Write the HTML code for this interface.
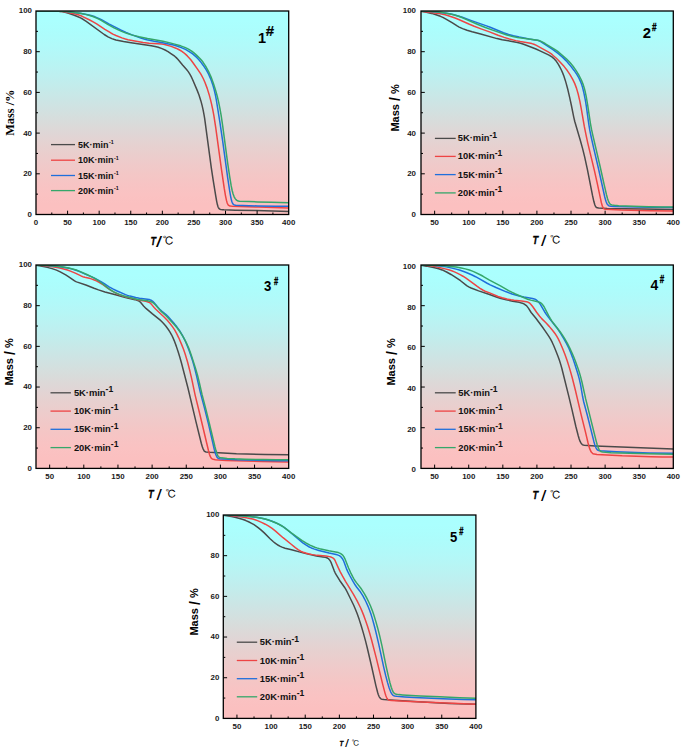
<!DOCTYPE html>
<html lang="en"><head><meta charset="utf-8"><title>TG curves</title>
<style>html,body{margin:0;padding:0;background:#fff;}svg{display:block;}</style>
</head><body>
<svg width="685" height="750" viewBox="0 0 685 750">
<defs>
<linearGradient id="bg" x1="0" y1="0" x2="0" y2="1"><stop offset="0" stop-color="#aafffe"/><stop offset="0.05" stop-color="#abfffe"/><stop offset="0.1" stop-color="#acfdfc"/><stop offset="0.15" stop-color="#affbfa"/><stop offset="0.2" stop-color="#b3f8f8"/><stop offset="0.25" stop-color="#b7f5f4"/><stop offset="0.3" stop-color="#bcf1f1"/><stop offset="0.35" stop-color="#c1eded"/><stop offset="0.4" stop-color="#c7e9e8"/><stop offset="0.45" stop-color="#cde4e4"/><stop offset="0.5" stop-color="#d3e0df"/><stop offset="0.55" stop-color="#d9dbda"/><stop offset="0.6" stop-color="#dfd6d6"/><stop offset="0.65" stop-color="#e5d2d1"/><stop offset="0.7" stop-color="#eacecd"/><stop offset="0.75" stop-color="#efcaca"/><stop offset="0.8" stop-color="#f3c7c6"/><stop offset="0.85" stop-color="#f7c4c4"/><stop offset="0.9" stop-color="#fac2c2"/><stop offset="0.95" stop-color="#fbc0c0"/><stop offset="1" stop-color="#fcc0c0"/></linearGradient>
<clipPath id="clip1"><rect x="36" y="11" width="252.7" height="203.5"/></clipPath>
<clipPath id="clip2"><rect x="421" y="11" width="252.3" height="203.5"/></clipPath>
<clipPath id="clip3"><rect x="36" y="265" width="252.7" height="203.4"/></clipPath>
<clipPath id="clip4"><rect x="421" y="265" width="252.3" height="203.4"/></clipPath>
<clipPath id="clip5"><rect x="223.3" y="515" width="252.6" height="203.4"/></clipPath>
</defs>
<rect width="685" height="750" fill="#fff"/>
<g id="chart1">
<rect x="36" y="11" width="252.7" height="203.5" fill="url(#bg)"/>
<g clip-path="url(#clip1)" fill="none" stroke-width="1.5" stroke-linejoin="round" stroke-linecap="round">
<path d="M36 11 L54.32 11 L57.48 11.11 L60.32 11.38 L63.17 11.84 L66.01 12.45 L68.54 13.2 L73.59 15.02 L77.38 16.51 L80.54 17.94 L83.07 19.28 L86.22 21.37 L104.23 34.49 L108.02 36.83 L111.81 38.64 L113.71 39.31 L115.92 39.92 L123.5 41.54 L131.08 42.84 L151.29 45.85 L155.08 46.56 L158.24 47.32 L162.03 48.64 L166.14 50.55 L168.04 51.67 L170.88 53.54 L174.67 56.23 L176.25 57.61 L177.83 59.27 L182.57 64.93 L186.36 69.2 L188.25 71.63 L189.83 74.08 L191.09 76.43 L192.67 79.77 L197.1 90.12 L198.99 95.02 L200.89 100.93 L202.15 105.68 L203.1 109.84 L204.05 114.79 L204.68 118.66 L211.31 167.81 L213.21 180.41 L215.73 195.87 L216.68 201.3 L217.31 204.3 L217.94 206.48 L218.26 207.27 L218.89 208.37 L219.52 209.01 L220.47 209.44 L221.73 209.63 L223.95 209.76 L235.32 210.15 L256.16 210.59 L288.7 211.44" stroke="#4a4a4a"/>
<path d="M36 11 L55.58 11 L58.74 11.14 L62.85 11.61 L67.9 12.48 L73.27 13.58 L77.38 14.58 L79.59 15.28 L82.12 16.3 L89.7 20 L93.17 21.91 L96.65 23.95 L104.86 29.41 L110.86 32.98 L113.39 34.32 L115.92 35.52 L121.92 37.89 L125.39 39.08 L127.92 39.74 L143.08 42.45 L149.08 43.14 L161.72 44.11 L163.61 44.37 L165.51 44.77 L171.19 46.37 L175.93 48.18 L178.14 49.22 L180.04 50.25 L181.93 51.42 L183.83 52.79 L185.41 54.12 L187.3 55.91 L189.2 57.9 L190.78 59.76 L192.99 62.7 L198.04 69.89 L200.89 74.21 L203.1 78.24 L204.99 82.46 L207.2 88.38 L209.1 94.42 L210.36 99.09 L211.63 104.35 L212.89 110.27 L213.84 115.34 L215.73 127.53 L221.42 169.04 L224.26 188.43 L225.52 195.8 L226.47 200.41 L227.1 202.66 L227.42 203.51 L228.05 204.7 L228.68 205.4 L229.63 205.91 L230.58 206.1 L232.47 206.25 L239.74 206.53 L258.69 207 L288.7 207.98" stroke="#ee4444"/>
<path d="M36 11 L58.43 11 L62.53 11.19 L66.96 11.62 L81.49 13.55 L86.54 14.45 L90.96 15.49 L95.07 16.83 L99.81 18.83 L102.33 20.14 L109.28 24.08 L120.65 29.88 L126.02 32.44 L131.39 34.62 L140.87 37.98 L144.03 38.96 L146.87 39.72 L154.14 41.32 L162.67 42.81 L168.67 43.97 L173.41 45.02 L176.88 45.98 L181.3 47.6 L185.41 49.44 L189.2 51.55 L192.67 53.94 L196.15 56.9 L197.73 58.5 L199.31 60.27 L201.2 62.62 L203.1 65.18 L206.26 69.94 L208.47 73.94 L210.68 78.87 L212.57 84.15 L214.15 89.57 L215.42 94.99 L216.36 100.02 L219.84 121.88 L222.68 141.22 L227.74 178.21 L229.63 190.72 L230.58 196.08 L231.21 199.1 L231.84 201.45 L232.16 202.34 L232.79 203.65 L233.42 204.46 L234.05 204.9 L234.69 205.11 L235.63 205.21 L257.74 205.95 L275.43 206.27 L288.7 206.36" stroke="#1f6fdc"/>
<path d="M36 11 L58.43 11 L61.9 11.14 L66.64 11.58 L80.22 13.35 L83.38 13.89 L86.54 14.61 L89.7 15.5 L92.23 16.32 L94.75 17.31 L97.28 18.44 L100.75 20.19 L107.7 24.43 L114.02 27.83 L120.97 31.08 L126.66 33.34 L132.34 35.11 L138.98 36.77 L147.5 38.51 L162.98 41.25 L168.98 42.62 L174.67 44.11 L180.67 45.84 L184.78 47.35 L186.99 48.35 L188.88 49.34 L190.46 50.3 L192.04 51.42 L193.94 52.93 L196.46 55.12 L199.94 58.53 L201.52 60.32 L203.1 62.33 L205.62 66.11 L208.47 71.3 L210.99 76.86 L213.52 83.66 L215.73 90.71 L217.31 96.54 L218.58 101.92 L219.84 108.05 L221.1 115.17 L222.68 125.96 L227.74 163.56 L229.63 176.3 L231.21 185.89 L232.16 190.51 L233.11 194 L234.05 196.57 L235 198.4 L235.95 199.6 L236.9 200.4 L238.16 201.05 L239.42 201.28 L248.9 201.5 L257.74 201.88 L271.33 202.32 L288.7 202.69" stroke="#35a76a"/>
</g>
<path d="M51.79 214.5 v-2 M67.59 214.5 v-3.8 M83.38 214.5 v-2 M99.17 214.5 v-3.8 M114.97 214.5 v-2 M130.76 214.5 v-3.8 M146.56 214.5 v-2 M162.35 214.5 v-3.8 M178.14 214.5 v-2 M193.94 214.5 v-3.8 M209.73 214.5 v-2 M225.52 214.5 v-3.8 M241.32 214.5 v-2 M257.11 214.5 v-3.8 M272.91 214.5 v-2 M36 194.15 h2 M36 173.8 h3.8 M36 153.45 h2 M36 133.1 h3.8 M36 112.75 h2 M36 92.4 h3.8 M36 72.05 h2 M36 51.7 h3.8 M36 31.35 h2" stroke="#000" stroke-width="1" fill="none"/>
<rect x="36" y="11" width="252.7" height="203.5" fill="none" stroke="#000" stroke-width="1.3"/>
<g font-family='"Liberation Sans", sans-serif' font-weight="bold" font-size="7.9" fill="#1a1a1a">
<text x="36" y="225.2" text-anchor="middle">0</text>
<text x="67.59" y="225.2" text-anchor="middle">50</text>
<text x="99.17" y="225.2" text-anchor="middle">100</text>
<text x="130.76" y="225.2" text-anchor="middle">150</text>
<text x="162.35" y="225.2" text-anchor="middle">200</text>
<text x="193.94" y="225.2" text-anchor="middle">250</text>
<text x="225.52" y="225.2" text-anchor="middle">300</text>
<text x="257.11" y="225.2" text-anchor="middle">350</text>
<text x="288.7" y="225.2" text-anchor="middle">400</text>
<text x="32" y="216.95" text-anchor="end">0</text>
<text x="32" y="176.25" text-anchor="end">20</text>
<text x="32" y="135.55" text-anchor="end">40</text>
<text x="32" y="94.85" text-anchor="end">60</text>
<text x="32" y="54.15" text-anchor="end">80</text>
<text x="32" y="13.45" text-anchor="end">100</text>
</g>
<text transform="translate(14.2 112.7) rotate(-90)" text-anchor="middle" font-family='"Liberation Serif", serif' font-weight="bold" font-size="12.3" fill="#000">Mass /%</text>
<text transform="translate(150.6 245.2) scale(0.8 1)" font-family='"Liberation Sans", sans-serif' font-weight="bold" font-style="italic" font-size="11.3" fill="#000" stroke="#000" stroke-width="0.3">T</text>
<text transform="translate(156.6 247.1) scale(1 1)" font-family='"Liberation Sans", sans-serif' font-weight="bold" font-style="italic" font-size="15.3" fill="#000">/</text>
<text x="162.8" y="245" font-family='"Liberation Serif", "IPAGothic", "Noto Serif CJK SC", serif' font-size="11.3" fill="#000">℃</text>
<text transform="translate(258 43) scale(1 1)" font-family='"Liberation Sans", sans-serif' font-weight="bold" font-size="14.5" fill="#000">1</text>
<text transform="translate(265.8 36) scale(1 1)" font-family='"Liberation Sans", sans-serif' font-weight="bold" font-size="15" fill="#000" stroke="#000" stroke-width="0.2">#</text>
<line x1="51" y1="144.6" x2="75" y2="144.6" stroke="#4a4a4a" stroke-width="1.3"/>
<text x="78" y="147.8" font-family='"Liberation Sans", sans-serif' font-weight="bold" font-size="9" fill="#111">5K·min<tspan dx="0.4" dy="-3.4" font-size="5.3">-1</tspan></text>
<line x1="51" y1="160.2" x2="75" y2="160.2" stroke="#ee4444" stroke-width="1.3"/>
<text x="78" y="163.4" font-family='"Liberation Sans", sans-serif' font-weight="bold" font-size="9" fill="#111">10K·min<tspan dx="0.4" dy="-3.4" font-size="5.3">-1</tspan></text>
<line x1="51" y1="175.5" x2="75" y2="175.5" stroke="#1f6fdc" stroke-width="1.3"/>
<text x="78" y="178.7" font-family='"Liberation Sans", sans-serif' font-weight="bold" font-size="9" fill="#111">15K·min<tspan dx="0.4" dy="-3.4" font-size="5.3">-1</tspan></text>
<line x1="51" y1="190.6" x2="75" y2="190.6" stroke="#35a76a" stroke-width="1.3"/>
<text x="78" y="193.8" font-family='"Liberation Sans", sans-serif' font-weight="bold" font-size="9" fill="#111">20K·min<tspan dx="0.4" dy="-3.4" font-size="5.3">-1</tspan></text>
</g>
<g id="chart2">
<rect x="421" y="11" width="252.3" height="203.5" fill="url(#bg)"/>
<g clip-path="url(#clip2)" fill="none" stroke-width="1.5" stroke-linejoin="round" stroke-linecap="round">
<path d="M421 11.26 L425.43 11.98 L431.57 13.4 L436 14.7 L440.43 16.31 L442.82 17.39 L445.55 18.87 L452.03 22.73 L457.14 25.95 L459.19 27.11 L462.6 28.65 L467.03 30.21 L472.14 31.76 L480.67 34 L497.03 38.6 L502.15 39.7 L517.49 42.43 L520.56 43.2 L523.62 44.21 L531.47 47.2 L536.58 49.29 L539.99 50.82 L548.51 54.91 L550.22 55.84 L551.92 56.96 L553.63 58.32 L554.99 59.66 L556.36 61.33 L558.06 63.9 L559.76 66.84 L561.47 70.24 L562.83 73.39 L563.86 76.09 L565.22 80.16 L566.24 83.61 L567.95 90.06 L569.65 97.34 L571.36 105.24 L573.74 117.07 L574.77 121.49 L580.22 139.94 L582.61 148.66 L584.65 156.82 L587.38 169.33 L592.5 195.38 L593.86 201.57 L594.88 205.01 L595.56 206.45 L596.25 207.29 L597.27 207.86 L598.63 208.11 L607.16 208.46 L641.93 209.06 L673.3 209.41" stroke="#4a4a4a"/>
<path d="M421 11.24 L434.64 12.9 L440.43 13.77 L445.21 14.84 L451.34 16.68 L455.09 18.04 L459.87 19.99 L469.41 24.28 L474.19 26.24 L481.01 28.83 L489.53 31.91 L498.05 35.25 L504.19 37.4 L509.31 38.97 L515.78 40.64 L520.22 41.55 L529.08 42.99 L531.81 43.6 L533.85 44.21 L535.9 45.14 L548.17 51.94 L550.22 53.2 L552.26 54.7 L556.36 58.26 L559.76 61.67 L564.2 66.62 L567.27 70.55 L569.99 74.61 L572.72 79.37 L574.77 83.64 L576.47 88.11 L578.18 93.98 L579.88 101.39 L581.24 108.56 L584.31 126.38 L586.02 134.95 L587.72 142.82 L594.54 171.15 L597.27 183.42 L601.36 202.65 L602.38 206.18 L602.72 207 L603.41 208.15 L603.75 208.52 L604.43 208.99 L605.79 209.33 L621.14 210.08 L649.77 210.8 L673.3 211.04" stroke="#ee4444"/>
<path d="M421 11.01 L430.55 11.38 L437.37 11.99 L446.23 13.21 L450.66 14.03 L454.07 14.8 L458.16 15.92 L462.25 17.2 L470.78 20.38 L485.78 25.64 L490.21 27.3 L503.51 32.69 L508.62 34.5 L513.4 35.8 L519.19 37.1 L529.08 38.91 L535.22 39.89 L538.29 40.58 L539.65 41.08 L540.67 41.6 L546.47 45.29 L552.61 49.4 L558.4 53.66 L562.49 57.11 L566.24 60.85 L569.99 65.14 L574.08 70.43 L576.81 74.32 L578.86 77.87 L580.56 81.57 L581.93 85.35 L582.61 87.65 L583.63 91.7 L585.34 100.06 L586.36 106.42 L588.75 123.99 L589.77 130.03 L591.13 136.75 L593.86 148.88 L598.29 167.72 L604.77 197.03 L605.45 199.59 L606.13 201.71 L606.82 203.36 L607.5 204.55 L608.52 205.58 L609.54 206.05 L610.91 206.26 L614.32 206.48 L649.77 207.33 L673.3 207.58" stroke="#1f6fdc"/>
<path d="M421 11.01 L425.43 11.12 L431.23 11.43 L438.39 12.11 L443.5 12.77 L447.59 13.43 L451.34 14.18 L454.41 14.99 L458.5 16.31 L462.6 17.82 L477.94 24.51 L485.44 27.53 L492.6 30.15 L506.92 35.04 L511.69 36.27 L517.49 37.41 L523.28 38.32 L535.9 39.97 L537.94 40.33 L539.65 40.79 L541.69 41.67 L545.1 43.52 L554.31 49.06 L557.72 51.45 L563.17 55.99 L566.58 59.06 L569.99 62.57 L573.06 66.24 L576.13 70.59 L579.2 75.74 L581.59 80.5 L583.29 84.87 L584.31 88.23 L585 90.87 L586.36 97.26 L587.72 105.28 L590.45 123.62 L591.47 129.14 L592.5 133.96 L600 165.96 L604.09 184.4 L606.47 194.68 L607.5 198.46 L608.18 200.55 L608.86 202.23 L609.54 203.47 L609.88 203.91 L610.57 204.51 L611.25 204.84 L611.93 205.04 L614.32 205.36 L618.75 205.69 L633.07 206.22 L648.75 206.66 L661.37 206.89 L673.3 206.97" stroke="#35a76a"/>
</g>
<path d="M434.64 214.5 v-3.8 M451.69 214.5 v-2 M468.73 214.5 v-3.8 M485.78 214.5 v-2 M502.83 214.5 v-3.8 M519.87 214.5 v-2 M536.92 214.5 v-3.8 M553.97 214.5 v-2 M571.02 214.5 v-3.8 M588.06 214.5 v-2 M605.11 214.5 v-3.8 M622.16 214.5 v-2 M639.21 214.5 v-3.8 M656.25 214.5 v-2 M421 194.15 h2 M421 173.8 h3.8 M421 153.45 h2 M421 133.1 h3.8 M421 112.75 h2 M421 92.4 h3.8 M421 72.05 h2 M421 51.7 h3.8 M421 31.35 h2" stroke="#000" stroke-width="1" fill="none"/>
<rect x="421" y="11" width="252.3" height="203.5" fill="none" stroke="#000" stroke-width="1.3"/>
<g font-family='"Liberation Sans", sans-serif' font-weight="bold" font-size="7.9" fill="#1a1a1a">
<text x="434.64" y="225.2" text-anchor="middle">50</text>
<text x="468.73" y="225.2" text-anchor="middle">100</text>
<text x="502.83" y="225.2" text-anchor="middle">150</text>
<text x="536.92" y="225.2" text-anchor="middle">200</text>
<text x="571.02" y="225.2" text-anchor="middle">250</text>
<text x="605.11" y="225.2" text-anchor="middle">300</text>
<text x="639.21" y="225.2" text-anchor="middle">350</text>
<text x="673.3" y="225.2" text-anchor="middle">400</text>
<text x="416" y="216.95" text-anchor="end">0</text>
<text x="416" y="176.25" text-anchor="end">20</text>
<text x="416" y="135.55" text-anchor="end">40</text>
<text x="416" y="94.85" text-anchor="end">60</text>
<text x="416" y="54.15" text-anchor="end">80</text>
<text x="416" y="13.45" text-anchor="end">100</text>
</g>
<text transform="translate(398.9 107.9) rotate(-90)" text-anchor="middle" font-family='"Liberation Sans", sans-serif' font-weight="bold" font-size="11" fill="#000">Mass <tspan font-size="14" dy="1.4">/</tspan><tspan dy="-1.4"> %</tspan></text>
<text transform="translate(532.4 243.8) scale(0.85 1)" font-family='"Liberation Sans", sans-serif' font-weight="bold" font-style="italic" font-size="11" fill="#000" stroke="#000" stroke-width="0.3">T</text>
<text transform="translate(541.5 245.6) scale(0.9 1)" font-family='"Liberation Sans", sans-serif' font-weight="bold" font-style="italic" font-size="14.8" fill="#000">/</text>
<text x="550" y="243.6" font-family='"Liberation Serif", "IPAGothic", "Noto Serif CJK SC", serif' font-size="11" fill="#000">℃</text>
<text transform="translate(642.8 38.1) scale(0.99 1)" font-family='"Liberation Sans", sans-serif' font-weight="bold" font-size="15" fill="#000">2</text>
<text transform="translate(652 30.9) scale(0.86 1.15)" font-family='"Liberation Sans", sans-serif' font-weight="bold" font-size="9.5" fill="#000" stroke="#000" stroke-width="0.35">#</text>
<line x1="434.9" y1="138.4" x2="455.7" y2="138.4" stroke="#4a4a4a" stroke-width="1.3"/>
<text x="457.8" y="141.4" font-family='"Liberation Sans", sans-serif' font-weight="bold" font-size="9.35" fill="#111">5K·min<tspan dy="-3.7" font-size="8.6">-1</tspan></text>
<line x1="434.9" y1="156.4" x2="455.7" y2="156.4" stroke="#ee4444" stroke-width="1.3"/>
<text x="457.8" y="159.4" font-family='"Liberation Sans", sans-serif' font-weight="bold" font-size="9.35" fill="#111">10K·min<tspan dy="-3.7" font-size="8.6">-1</tspan></text>
<line x1="434.9" y1="174.6" x2="455.7" y2="174.6" stroke="#1f6fdc" stroke-width="1.3"/>
<text x="457.8" y="177.6" font-family='"Liberation Sans", sans-serif' font-weight="bold" font-size="9.35" fill="#111">15K·min<tspan dy="-3.7" font-size="8.6">-1</tspan></text>
<line x1="434.9" y1="192.9" x2="455.7" y2="192.9" stroke="#35a76a" stroke-width="1.3"/>
<text x="457.8" y="195.9" font-family='"Liberation Sans", sans-serif' font-weight="bold" font-size="9.35" fill="#111">20K·min<tspan dy="-3.7" font-size="8.6">-1</tspan></text>
</g>
<g id="chart3">
<rect x="36" y="265" width="252.7" height="203.4" fill="url(#bg)"/>
<g clip-path="url(#clip3)" fill="none" stroke-width="1.5" stroke-linejoin="round" stroke-linecap="round">
<path d="M36 265.25 L40.78 265.98 L47.27 267.35 L52.05 268.64 L56.49 270.16 L60.25 271.88 L65.71 274.93 L68.78 276.87 L74.59 280.84 L75.95 281.61 L77.32 282.15 L85.86 285.01 L94.05 288.23 L98.49 289.84 L104.98 291.92 L115.57 294.76 L125.47 297.62 L128.54 298.37 L135.03 299.65 L137.08 300.23 L138.45 300.76 L139.47 301.35 L140.49 302.28 L143.57 306.06 L145.96 308.41 L152.45 313.94 L159.96 319.89 L161.67 321.47 L163.37 323.25 L165.76 326.07 L168.16 329.26 L169.86 331.83 L171.57 334.79 L172.94 337.59 L174.3 340.86 L176.35 346.38 L178.06 351.43 L179.77 356.95 L181.47 362.98 L187.96 388.04 L195.82 421.15 L201.28 443.2 L202.3 446.67 L202.99 448.57 L204.01 450.65 L204.69 451.43 L205.38 451.81 L206.06 451.99 L209.82 452.36 L236.45 453.84 L265.14 454.54 L288.7 454.77" stroke="#4a4a4a"/>
<path d="M36 265.02 L39.76 265.25 L44.88 265.71 L52.73 266.73 L57.17 267.49 L60.93 268.25 L64.68 269.18 L67.42 269.99 L70.49 271.13 L75.27 273.14 L81.08 275.94 L82.78 276.67 L84.83 277.31 L89.27 278.29 L91.32 278.85 L93.71 279.7 L96.44 280.88 L99.52 282.52 L102.93 284.63 L104.98 286.04 L109.08 289.17 L111.81 290.92 L115.57 292.96 L119.66 294.79 L123.08 295.94 L128.88 297.5 L137.42 299.64 L145.62 301.23 L147.32 301.69 L148.69 302.18 L150.06 302.96 L151.08 303.87 L154.15 307.49 L155.52 308.97 L164.06 316.98 L167.47 320.5 L170.2 323.68 L172.59 326.84 L174.64 329.95 L176.69 333.56 L178.74 337.81 L181.47 344.15 L183.52 349.32 L185.23 354.22 L187.62 362.3 L190.01 371.55 L191.72 378.95 L195.13 395.11 L199.23 411.73 L208.45 450.5 L209.48 454.22 L210.16 456.16 L210.84 457.53 L211.18 458.02 L211.87 458.71 L212.55 459.12 L213.23 459.36 L215.28 459.7 L218.7 459.98 L226.21 460.39 L261.38 461.51 L288.7 462.09" stroke="#ee4444"/>
<path d="M36 265.01 L41.46 265.18 L47.95 265.53 L53.42 265.98 L58.54 266.54 L63.32 267.23 L67.76 268.03 L71.51 268.89 L75.27 269.95 L79.03 271.33 L85.17 274.14 L92.35 277.15 L95.42 278.57 L100.54 281.4 L104.3 283.69 L109.08 286.79 L112.83 288.93 L116.59 290.78 L125.47 294.62 L127.52 295.37 L129.91 296.1 L135.71 297.5 L139.47 298.17 L147.32 299.22 L149.03 299.53 L150.06 299.83 L151.08 300.25 L152.79 301.32 L154.15 302.68 L157.91 307.29 L160.3 309.91 L162.01 311.43 L165.76 314.33 L167.81 316.3 L174.64 324.11 L176.69 326.59 L179.42 330.43 L182.16 334.96 L184.55 339.56 L186.94 344.93 L188.99 350.14 L190.69 354.95 L192.74 361.38 L194.45 367.39 L196.5 375.58 L200.25 392.12 L204.69 408.9 L208.45 423.94 L214.26 449.26 L215.28 452.99 L215.96 455.01 L216.65 456.53 L217.33 457.57 L217.67 457.93 L218.35 458.41 L219.04 458.65 L219.72 458.76 L237.14 459.74 L265.82 460.6 L277.77 460.81 L288.7 460.87" stroke="#1f6fdc"/>
<path d="M36 265.01 L41.81 265.2 L48.29 265.56 L54.78 266.12 L61.61 266.85 L65.71 267.44 L68.78 268.02 L72.54 268.95 L76.3 270.07 L80.39 271.62 L86.88 274.5 L91.32 276.57 L94.74 278.37 L97.13 279.83 L99.52 281.51 L104.3 285.15 L108.05 288.19 L110.1 289.66 L114.2 292.06 L118.64 294.17 L121.03 295.09 L123.76 295.94 L136.74 299.3 L139.47 299.81 L147.32 300.86 L149.72 301.31 L151.76 301.99 L152.79 302.53 L153.47 303.03 L154.84 304.35 L160.64 310.86 L165.76 315.49 L168.16 317.89 L174.64 325.06 L177.38 328.31 L180.45 332.55 L183.18 336.9 L185.91 341.91 L188.3 347.06 L190.01 351.4 L191.72 356.38 L195.47 368.29 L197.52 375.29 L198.89 380.61 L201.96 394.18 L205.72 408.67 L209.13 422.32 L214.94 446.79 L215.96 450.59 L216.99 453.83 L217.67 455.4 L218.35 456.44 L219.04 457.07 L219.72 457.44 L221.43 457.87 L227.23 458.38 L234.75 458.84 L244.99 459.18 L262.75 459.59 L276.06 459.79 L288.7 459.86" stroke="#35a76a"/>
</g>
<path d="M49.66 468.4 v-3.8 M66.73 468.4 v-2 M83.81 468.4 v-3.8 M100.88 468.4 v-2 M117.96 468.4 v-3.8 M135.03 468.4 v-2 M152.11 468.4 v-3.8 M169.18 468.4 v-2 M186.25 468.4 v-3.8 M203.33 468.4 v-2 M220.4 468.4 v-3.8 M237.48 468.4 v-2 M254.55 468.4 v-3.8 M271.63 468.4 v-2 M36 448.06 h2 M36 427.72 h3.8 M36 407.38 h2 M36 387.04 h3.8 M36 366.7 h2 M36 346.36 h3.8 M36 326.02 h2 M36 305.68 h3.8 M36 285.34 h2" stroke="#000" stroke-width="1" fill="none"/>
<rect x="36" y="265" width="252.7" height="203.4" fill="none" stroke="#000" stroke-width="1.3"/>
<g font-family='"Liberation Sans", sans-serif' font-weight="bold" font-size="7.9" fill="#1a1a1a">
<text x="49.66" y="479.1" text-anchor="middle">50</text>
<text x="83.81" y="479.1" text-anchor="middle">100</text>
<text x="117.96" y="479.1" text-anchor="middle">150</text>
<text x="152.11" y="479.1" text-anchor="middle">200</text>
<text x="186.25" y="479.1" text-anchor="middle">250</text>
<text x="220.4" y="479.1" text-anchor="middle">300</text>
<text x="254.55" y="479.1" text-anchor="middle">350</text>
<text x="288.7" y="479.1" text-anchor="middle">400</text>
<text x="32" y="470.85" text-anchor="end">0</text>
<text x="32" y="430.17" text-anchor="end">20</text>
<text x="32" y="389.49" text-anchor="end">40</text>
<text x="32" y="348.81" text-anchor="end">60</text>
<text x="32" y="308.13" text-anchor="end">80</text>
<text x="32" y="267.45" text-anchor="end">100</text>
</g>
<text transform="translate(13.3 361.9) rotate(-90)" text-anchor="middle" font-family='"Liberation Sans", sans-serif' font-weight="bold" font-size="11" fill="#000">Mass <tspan font-size="14" dy="1.4">/</tspan><tspan dy="-1.4"> %</tspan></text>
<text transform="translate(148 497.7) scale(0.85 1)" font-family='"Liberation Sans", sans-serif' font-weight="bold" font-style="italic" font-size="11" fill="#000" stroke="#000" stroke-width="0.3">T</text>
<text transform="translate(157.1 499.5) scale(0.9 1)" font-family='"Liberation Sans", sans-serif' font-weight="bold" font-style="italic" font-size="14.8" fill="#000">/</text>
<text x="165.6" y="497.5" font-family='"Liberation Serif", "IPAGothic", "Noto Serif CJK SC", serif' font-size="11" fill="#000">℃</text>
<text transform="translate(264 291.4) scale(0.88 1.03)" font-family='"Liberation Sans", sans-serif' font-weight="bold" font-size="15" fill="#000">3</text>
<text transform="translate(274.1 284.5) scale(0.79 1.14)" font-family='"Liberation Sans", sans-serif' font-weight="bold" font-size="9.5" fill="#000" stroke="#000" stroke-width="0.35">#</text>
<line x1="50.5" y1="392.8" x2="70.9" y2="392.8" stroke="#4a4a4a" stroke-width="1.3"/>
<text x="73.9" y="395.8" font-family='"Liberation Sans", sans-serif' font-weight="bold" font-size="9.35" fill="#111">5K·min<tspan dy="-3.7" font-size="8.6">-1</tspan></text>
<line x1="50.5" y1="411.1" x2="70.9" y2="411.1" stroke="#ee4444" stroke-width="1.3"/>
<text x="73.9" y="414.1" font-family='"Liberation Sans", sans-serif' font-weight="bold" font-size="9.35" fill="#111">10K·min<tspan dy="-3.7" font-size="8.6">-1</tspan></text>
<line x1="50.5" y1="429.3" x2="70.9" y2="429.3" stroke="#1f6fdc" stroke-width="1.3"/>
<text x="73.9" y="432.3" font-family='"Liberation Sans", sans-serif' font-weight="bold" font-size="9.35" fill="#111">15K·min<tspan dy="-3.7" font-size="8.6">-1</tspan></text>
<line x1="50.5" y1="447.6" x2="70.9" y2="447.6" stroke="#35a76a" stroke-width="1.3"/>
<text x="73.9" y="450.6" font-family='"Liberation Sans", sans-serif' font-weight="bold" font-size="9.35" fill="#111">20K·min<tspan dy="-3.7" font-size="8.6">-1</tspan></text>
</g>
<g id="chart4">
<rect x="421" y="265" width="252.3" height="203.4" fill="url(#bg)"/>
<g clip-path="url(#clip4)" fill="none" stroke-width="1.5" stroke-linejoin="round" stroke-linecap="round">
<path d="M421 265.26 L426.46 266.14 L434.64 267.82 L438.73 268.82 L442.14 269.93 L444.18 270.81 L446.57 272.01 L451 274.48 L453.73 276.11 L457.14 278.34 L460.55 280.73 L466.69 285.67 L468.73 286.89 L471.12 288.01 L478.62 290.89 L489.53 294.44 L497.03 297.24 L500.1 298.25 L506.24 299.78 L512.71 301.18 L519.19 302.36 L522.26 303.16 L523.62 303.71 L524.65 304.29 L526.01 305.33 L527.03 306.34 L528.4 308.16 L531.13 312.48 L535.9 318.19 L542.04 326.51 L545.1 330.83 L548.85 336.4 L550.56 339.2 L552.26 342.44 L553.97 346.23 L556.01 351.22 L558.06 356.5 L559.42 360.34 L560.79 364.63 L561.81 368.29 L568.63 395.67 L572.04 409.9 L575.79 426.23 L578.18 435.47 L579.2 438.92 L580.22 441.67 L581.24 443.51 L582.27 444.56 L583.29 445.03 L584.31 445.21 L595.56 445.9 L634.09 447.61 L673.3 449.07" stroke="#4a4a4a"/>
<path d="M421 265.01 L423.73 265.12 L427.14 265.4 L431.23 265.85 L433.96 266.29 L445.21 268.88 L448.62 269.81 L451.69 270.81 L454.41 271.89 L457.14 273.13 L460.55 274.87 L462.94 276.23 L466 278.21 L470.44 281.29 L476.92 286.11 L479.64 288.02 L482.71 290 L485.1 291.21 L490.21 293.11 L498.05 296.5 L502.15 297.83 L506.92 299.05 L511.01 299.85 L514.08 300.26 L521.58 301 L526.35 301.75 L527.72 302.1 L528.74 302.51 L529.76 303.19 L530.78 304.19 L532.83 306.73 L536.58 312.27 L539.65 316.28 L541.69 318.63 L546.13 323.06 L549.2 326.37 L552.26 330 L554.99 333.53 L556.7 336.09 L558.4 339.14 L560.11 342.74 L562.49 348.3 L564.88 354.33 L567.27 361.05 L569.65 368.65 L572.04 377.05 L575.45 390.45 L581.24 415.13 L585.68 432.92 L588.06 442.97 L589.09 446.82 L589.77 448.9 L590.79 451.24 L591.47 452.32 L592.5 453.34 L593.18 453.74 L594.2 454.1 L596.93 454.45 L622.16 455.87 L650.8 456.73 L662.39 456.94 L673.3 457.01" stroke="#ee4444"/>
<path d="M421 265 L426.8 265.08 L432.93 265.3 L437.37 265.64 L442.14 266.18 L446.23 266.88 L452.03 268.13 L456.12 269.14 L460.21 270.33 L465.66 272.25 L472.14 275.02 L475.55 276.71 L479.98 279.07 L487.14 283.24 L490.21 284.86 L496.01 287.53 L506.24 291.82 L512.03 293.94 L519.19 296.01 L523.97 297.09 L532.49 298.52 L534.19 298.92 L535.22 299.32 L536.24 299.92 L537.26 300.73 L538.29 301.7 L539.31 302.9 L540.33 304.4 L544.42 311.49 L546.47 314.66 L548.51 317.39 L556.36 327.18 L558.4 330.05 L560.45 333.18 L564.2 339.29 L566.58 343.57 L568.97 348.53 L571.02 353.37 L572.72 357.87 L574.77 363.91 L577.84 373.82 L579.2 378.64 L580.56 384.67 L582.61 396.52 L583.63 401.49 L587.38 415.55 L593.86 441.43 L594.88 444.92 L595.91 447.59 L596.59 448.88 L596.93 449.38 L597.61 450.1 L598.63 450.6 L600.34 450.84 L607.84 451.36 L616.36 451.79 L649.09 452.89 L673.3 453.35" stroke="#1f6fdc"/>
<path d="M421 265 L430.55 265.19 L438.39 265.48 L444.53 265.85 L450.66 266.41 L456.12 267.09 L461.23 267.94 L465.32 268.88 L469.41 270.07 L471.8 270.89 L474.19 271.85 L480.67 274.97 L483.05 276.28 L489.53 280.07 L500.44 285.95 L508.62 290.57 L511.69 292.18 L515.44 293.98 L521.24 296.54 L527.72 299.2 L530.78 300.11 L538.63 301.92 L539.99 302.43 L541.01 303.07 L541.69 303.66 L542.72 304.81 L544.08 306.78 L548.51 315.38 L550.22 318.39 L551.58 320.57 L553.29 322.95 L557.04 327.69 L560.11 331.77 L562.15 334.69 L564.54 338.44 L567.27 343.19 L569.65 347.82 L572.04 352.96 L574.08 357.82 L575.79 362.23 L577.84 367.92 L579.2 372.05 L580.56 376.63 L581.93 382.02 L585.68 398.9 L596.25 441.35 L597.27 445.02 L598.29 447.91 L598.97 449.36 L600 450.82 L601.02 451.56 L601.7 451.81 L602.72 452.04 L605.79 452.35 L610.91 452.67 L648.41 453.87 L673.3 454.36" stroke="#35a76a"/>
</g>
<path d="M434.64 468.4 v-3.8 M451.69 468.4 v-2 M468.73 468.4 v-3.8 M485.78 468.4 v-2 M502.83 468.4 v-3.8 M519.87 468.4 v-2 M536.92 468.4 v-3.8 M553.97 468.4 v-2 M571.02 468.4 v-3.8 M588.06 468.4 v-2 M605.11 468.4 v-3.8 M622.16 468.4 v-2 M639.21 468.4 v-3.8 M656.25 468.4 v-2 M421 448.06 h2 M421 427.72 h3.8 M421 407.38 h2 M421 387.04 h3.8 M421 366.7 h2 M421 346.36 h3.8 M421 326.02 h2 M421 305.68 h3.8 M421 285.34 h2" stroke="#000" stroke-width="1" fill="none"/>
<rect x="421" y="265" width="252.3" height="203.4" fill="none" stroke="#000" stroke-width="1.3"/>
<g font-family='"Liberation Sans", sans-serif' font-weight="bold" font-size="7.9" fill="#1a1a1a">
<text x="434.64" y="479.1" text-anchor="middle">50</text>
<text x="468.73" y="479.1" text-anchor="middle">100</text>
<text x="502.83" y="479.1" text-anchor="middle">150</text>
<text x="536.92" y="479.1" text-anchor="middle">200</text>
<text x="571.02" y="479.1" text-anchor="middle">250</text>
<text x="605.11" y="479.1" text-anchor="middle">300</text>
<text x="639.21" y="479.1" text-anchor="middle">350</text>
<text x="673.3" y="479.1" text-anchor="middle">400</text>
<text x="416" y="472.35" text-anchor="end">0</text>
<text x="416" y="431.67" text-anchor="end">20</text>
<text x="416" y="390.99" text-anchor="end">40</text>
<text x="416" y="350.31" text-anchor="end">60</text>
<text x="416" y="309.63" text-anchor="end">80</text>
<text x="416" y="268.95" text-anchor="end">100</text>
</g>
<text transform="translate(395.3 361.9) rotate(-90)" text-anchor="middle" font-family='"Liberation Sans", sans-serif' font-weight="bold" font-size="11" fill="#000">Mass <tspan font-size="14" dy="1.4">/</tspan><tspan dy="-1.4"> %</tspan></text>
<text transform="translate(532.4 498.7) scale(0.85 1)" font-family='"Liberation Sans", sans-serif' font-weight="bold" font-style="italic" font-size="11" fill="#000" stroke="#000" stroke-width="0.3">T</text>
<text transform="translate(541.5 500.5) scale(0.9 1)" font-family='"Liberation Sans", sans-serif' font-weight="bold" font-style="italic" font-size="14.8" fill="#000">/</text>
<text x="550" y="498.5" font-family='"Liberation Serif", "IPAGothic", "Noto Serif CJK SC", serif' font-size="11" fill="#000">℃</text>
<text transform="translate(650.5 290.4) scale(0.93 1.01)" font-family='"Liberation Sans", sans-serif' font-weight="bold" font-size="15" fill="#000">4</text>
<text transform="translate(659.7 282.9) scale(0.84 1.11)" font-family='"Liberation Sans", sans-serif' font-weight="bold" font-size="9.5" fill="#000" stroke="#000" stroke-width="0.35">#</text>
<line x1="434.9" y1="392.8" x2="455.7" y2="392.8" stroke="#4a4a4a" stroke-width="1.3"/>
<text x="458.3" y="395.8" font-family='"Liberation Sans", sans-serif' font-weight="bold" font-size="9.35" fill="#111">5K·min<tspan dy="-3.7" font-size="8.6">-1</tspan></text>
<line x1="434.9" y1="411.1" x2="455.7" y2="411.1" stroke="#ee4444" stroke-width="1.3"/>
<text x="458.3" y="414.1" font-family='"Liberation Sans", sans-serif' font-weight="bold" font-size="9.35" fill="#111">10K·min<tspan dy="-3.7" font-size="8.6">-1</tspan></text>
<line x1="434.9" y1="429.3" x2="455.7" y2="429.3" stroke="#1f6fdc" stroke-width="1.3"/>
<text x="458.3" y="432.3" font-family='"Liberation Sans", sans-serif' font-weight="bold" font-size="9.35" fill="#111">15K·min<tspan dy="-3.7" font-size="8.6">-1</tspan></text>
<line x1="434.9" y1="447.6" x2="455.7" y2="447.6" stroke="#35a76a" stroke-width="1.3"/>
<text x="458.3" y="450.6" font-family='"Liberation Sans", sans-serif' font-weight="bold" font-size="9.35" fill="#111">20K·min<tspan dy="-3.7" font-size="8.6">-1</tspan></text>
</g>
<g id="chart5">
<rect x="223.3" y="515" width="252.6" height="203.4" fill="url(#bg)"/>
<g clip-path="url(#clip5)" fill="none" stroke-width="1.5" stroke-linejoin="round" stroke-linecap="round">
<path d="M223.3 515.25 L226.71 515.69 L231.49 516.54 L235.93 517.5 L239.68 518.49 L243.1 519.55 L245.83 520.57 L248.56 521.77 L251.63 523.32 L254.02 524.7 L256.07 526.08 L258.46 527.89 L261.19 530.13 L264.26 532.89 L270.07 538.7 L273.14 541.54 L274.84 542.98 L276.55 544.22 L278.26 545.26 L280.31 546.36 L282.01 547.14 L285.08 548.18 L291.57 549.72 L301.13 552.38 L305.91 553.58 L316.49 555.9 L322.97 556.9 L325.36 557.39 L326.73 557.79 L327.75 558.25 L328.44 558.72 L329.12 559.38 L330.14 560.75 L331.17 562.65 L334.24 570.82 L335.26 573.03 L336.29 574.95 L339.7 580.47 L344.48 587.21 L345.85 589.48 L347.21 592.01 L353.7 605.29 L355.4 609.19 L357.11 613.55 L359.16 619.37 L361.21 625.74 L363.6 633.87 L365.64 641.38 L367.35 648.25 L371.79 667.22 L375.88 685.62 L377.59 692.29 L378.27 694.5 L378.96 696.25 L379.64 697.49 L380.66 698.61 L381.35 698.99 L382.03 699.2 L384.08 699.48 L394.32 700.27 L418.21 701.84 L449.27 703.39 L475.9 704.36" stroke="#4a4a4a"/>
<path d="M223.3 515.02 L228.08 515.35 L234.22 515.96 L238.66 516.57 L246.17 517.76 L249.93 518.43 L252.66 519.04 L255.05 519.74 L257.44 520.6 L261.53 522.36 L265.29 524.22 L268.7 526.21 L272.11 528.46 L275.53 531.1 L283.04 537.7 L290.89 543.98 L295.33 547.67 L298.06 549.59 L301.13 551.33 L303.18 552.23 L305.57 553.01 L308.98 553.91 L312.39 554.63 L317.17 555.37 L325.71 556.07 L329.46 556.62 L330.83 557 L332.19 557.58 L333.22 558.2 L333.9 558.81 L334.58 559.7 L335.26 560.94 L338.34 567.91 L340.38 572.07 L342.43 575.95 L345.5 581.28 L353.35 594.15 L357.11 600.86 L360.52 607.76 L361.89 610.88 L363.6 615.13 L365.64 620.69 L367.69 626.76 L369.74 633.43 L371.45 639.44 L376.23 657.87 L382.71 684.43 L385.1 693.37 L385.78 695.51 L386.47 697.24 L387.15 698.53 L387.49 699.01 L388.17 699.69 L388.86 700.06 L389.54 700.25 L391.93 700.54 L410.36 701.56 L445.86 703.12 L475.9 704.15" stroke="#ee4444"/>
<path d="M223.3 515 L230.47 515.13 L236.95 515.39 L245.15 516 L251.97 516.73 L257.78 517.54 L262.9 518.49 L266.65 519.46 L270.75 520.81 L274.5 522.25 L277.57 523.64 L280.99 525.44 L283.72 527.12 L285.43 528.35 L287.82 530.25 L294.3 535.6 L302.83 542.84 L306.25 545.22 L309.32 546.99 L311.37 547.94 L313.76 548.89 L318.88 550.52 L329.12 553.06 L334.92 554.21 L337.31 554.83 L339.36 555.67 L340.38 556.38 L341.07 557.02 L342.43 558.72 L343.46 560.56 L344.14 562.17 L346.87 569.64 L347.89 571.92 L349.6 575.24 L353.01 581.38 L355.06 584.79 L356.77 587.24 L360.52 592.06 L362.91 595.88 L364.62 599.04 L366.33 602.51 L368.03 606.34 L369.4 609.75 L370.76 613.56 L372.13 617.89 L373.84 623.94 L375.54 630.55 L378.61 643.63 L383.74 667.36 L385.78 675.89 L387.49 682.39 L389.2 687.97 L390.56 691.57 L391.24 692.95 L391.93 694.02 L392.61 694.81 L393.29 695.37 L393.98 695.73 L394.66 695.95 L396.71 696.25 L404.9 696.91 L414.12 697.46 L448.93 698.94 L463.27 699.4 L475.9 699.68" stroke="#1f6fdc"/>
<path d="M223.3 515 L229.44 515.1 L236.27 515.35 L244.12 515.91 L250.27 516.53 L256.41 517.33 L261.53 518.21 L265.29 519.08 L269.38 520.33 L273.14 521.7 L276.21 523.01 L279.28 524.52 L282.35 526.24 L284.74 527.83 L290.89 532.58 L302.15 540.64 L305.91 542.97 L310 545.1 L314.78 547.19 L316.83 547.89 L319.56 548.66 L328.78 550.75 L335.6 551.94 L338.34 552.6 L339.7 553.11 L340.72 553.65 L341.75 554.38 L342.77 555.32 L343.8 556.63 L344.82 558.53 L348.58 568.06 L350.62 572.58 L352.67 576.69 L354.04 579.12 L355.06 580.73 L356.43 582.62 L360.86 588.27 L362.57 590.81 L364.62 594.15 L366.67 597.86 L368.72 601.98 L370.42 605.81 L372.13 610.12 L373.84 615.04 L375.88 621.64 L377.59 627.68 L379.64 635.65 L382.03 646.09 L386.12 666.36 L388.51 676.95 L389.88 682.46 L391.24 687.18 L392.27 690.1 L393.29 692.18 L394.32 693.35 L395.34 693.95 L396.71 694.32 L399.1 694.62 L402.51 694.88 L420.26 695.89 L439.72 696.83 L459.52 697.68 L475.9 698.25" stroke="#35a76a"/>
</g>
<path d="M236.95 718.4 v-3.8 M254.02 718.4 v-2 M271.09 718.4 v-3.8 M288.16 718.4 v-2 M305.22 718.4 v-3.8 M322.29 718.4 v-2 M339.36 718.4 v-3.8 M356.43 718.4 v-2 M373.49 718.4 v-3.8 M390.56 718.4 v-2 M407.63 718.4 v-3.8 M424.7 718.4 v-2 M441.76 718.4 v-3.8 M458.83 718.4 v-2 M223.3 698.06 h2 M223.3 677.72 h3.8 M223.3 657.38 h2 M223.3 637.04 h3.8 M223.3 616.7 h2 M223.3 596.36 h3.8 M223.3 576.02 h2 M223.3 555.68 h3.8 M223.3 535.34 h2" stroke="#000" stroke-width="1" fill="none"/>
<rect x="223.3" y="515" width="252.6" height="203.4" fill="none" stroke="#000" stroke-width="1.3"/>
<g font-family='"Liberation Sans", sans-serif' font-weight="bold" font-size="7.9" fill="#1a1a1a">
<text x="236.95" y="729.1" text-anchor="middle">50</text>
<text x="271.09" y="729.1" text-anchor="middle">100</text>
<text x="305.22" y="729.1" text-anchor="middle">150</text>
<text x="339.36" y="729.1" text-anchor="middle">200</text>
<text x="373.49" y="729.1" text-anchor="middle">250</text>
<text x="407.63" y="729.1" text-anchor="middle">300</text>
<text x="441.76" y="729.1" text-anchor="middle">350</text>
<text x="475.9" y="729.1" text-anchor="middle">400</text>
<text x="219.3" y="720.85" text-anchor="end">0</text>
<text x="219.3" y="680.17" text-anchor="end">20</text>
<text x="219.3" y="639.49" text-anchor="end">40</text>
<text x="219.3" y="598.81" text-anchor="end">60</text>
<text x="219.3" y="558.13" text-anchor="end">80</text>
<text x="219.3" y="517.45" text-anchor="end">100</text>
</g>
<text transform="translate(198.3 611.9) rotate(-90)" text-anchor="middle" font-family='"Liberation Sans", sans-serif' font-weight="bold" font-size="11" fill="#000">Mass <tspan font-size="14" dy="1.4">/</tspan><tspan dy="-1.4"> %</tspan></text>
<text transform="translate(339.5 746.3) scale(0.82 1)" font-family='"Liberation Sans", sans-serif' font-weight="bold" font-style="italic" font-size="7.7" fill="#000" stroke="#000" stroke-width="0.3">T</text>
<text transform="translate(345.6 747.4) scale(0.9 1)" font-family='"Liberation Sans", sans-serif' font-weight="bold" font-style="italic" font-size="10.4" fill="#000">/</text>
<text x="351.7" y="746.2" font-family='"Liberation Serif", "IPAGothic", "Noto Serif CJK SC", serif' font-size="7.8" fill="#000">℃</text>
<text transform="translate(450 542.4) scale(0.87 0.97)" font-family='"Liberation Sans", sans-serif' font-weight="bold" font-size="15" fill="#000">5</text>
<text transform="translate(459.3 534.6) scale(0.79 1.08)" font-family='"Liberation Sans", sans-serif' font-weight="bold" font-size="9.5" fill="#000" stroke="#000" stroke-width="0.35">#</text>
<line x1="236.8" y1="642.2" x2="257.2" y2="642.2" stroke="#4a4a4a" stroke-width="1.3"/>
<text x="259.8" y="645.2" font-family='"Liberation Sans", sans-serif' font-weight="bold" font-size="9.35" fill="#111">5K·min<tspan dy="-3.7" font-size="8.6">-1</tspan></text>
<line x1="236.8" y1="660.5" x2="257.2" y2="660.5" stroke="#ee4444" stroke-width="1.3"/>
<text x="259.8" y="663.5" font-family='"Liberation Sans", sans-serif' font-weight="bold" font-size="9.35" fill="#111">10K·min<tspan dy="-3.7" font-size="8.6">-1</tspan></text>
<line x1="236.8" y1="678.7" x2="257.2" y2="678.7" stroke="#1f6fdc" stroke-width="1.3"/>
<text x="259.8" y="681.7" font-family='"Liberation Sans", sans-serif' font-weight="bold" font-size="9.35" fill="#111">15K·min<tspan dy="-3.7" font-size="8.6">-1</tspan></text>
<line x1="236.8" y1="696.8" x2="257.2" y2="696.8" stroke="#35a76a" stroke-width="1.3"/>
<text x="259.8" y="699.8" font-family='"Liberation Sans", sans-serif' font-weight="bold" font-size="9.35" fill="#111">20K·min<tspan dy="-3.7" font-size="8.6">-1</tspan></text>
</g>
</svg>
</body></html>
